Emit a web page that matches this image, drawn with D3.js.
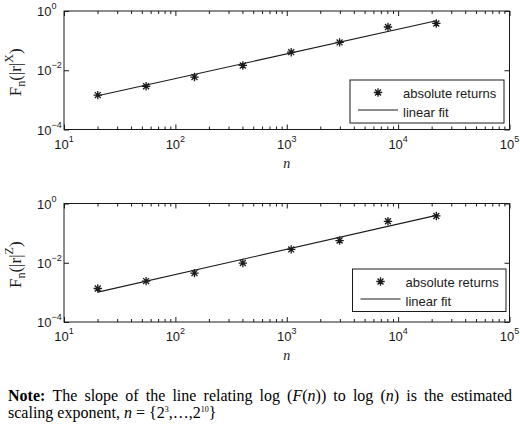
<!DOCTYPE html>
<html>
<head>
<meta charset="utf-8">
<script src="https://cdn.jsdelivr.net/npm/d3@7/dist/d3.min.js"></script>
<style>
  html, body { margin: 0; padding: 0; background: #fff; }
  svg { display: block; }
</style>
</head>
<body>
<svg id="chart" width="520" height="424"></svg>
<script>
// ---------------- data ----------------
const nValues   = [20.1, 54.6, 148.4, 403.4, 1096.6, 2981, 8103, 22026];
const fxValues  = [0.00145, 0.00288, 0.00589, 0.0145, 0.0407, 0.0871, 0.288, 0.380];
const fzValues  = [0.00135, 0.0024, 0.00447, 0.00977, 0.0282, 0.0562, 0.251, 0.380];
const fitN      = [20.1, 22026];
const fitX      = [0.00138, 0.468];
const fitZ      = [0.00102, 0.398];
const xTickValues = [10, 100, 1000, 10000, 100000];
const xTickExps   = ["1", "2", "3", "4", "5"];
const yTickValues = [1e-4, 1e-2, 1];
const yTickExps   = ["\u22124", "\u22122", "0"];
const legendLabels = ["absolute returns", "linear fit"];
const yLabelSups   = ["X", "Z"];
const xLabel = "n";
// note text: words made of [text, style] segments (b = bold, i = italic, s = superscript)
const noteLine1 = [
  [["Note:", "b"]], [["The", ""]], [["slope", ""]], [["of", ""]], [["the", ""]], [["line", ""]],
  [["relating", ""]], [["log", ""]], [["(", ""], ["F", "i"], ["(", ""], ["n", "i"], ["))", ""]],
  [["to", ""]], [["log", ""]], [["(", ""], ["n", "i"], [")", ""]], [["is", ""]], [["the", ""]],
  [["estimated", ""]]
];
const noteLine2 = [
  [["scaling", ""]], [["exponent,", ""]], [["n", "i"]], [["=", ""]],
  [["{2", ""], ["3", "s"], [",\u2026,2", ""], ["10", "s"], ["}", ""]]
];

// ---------------- layout ----------------
const svg = d3.select("#chart");
const LEFT = 64, RIGHT = 509.5;
const ink = "#1a1a1a";
const sans = "'Liberation Sans', Arial, sans-serif";
const serif = "'Liberation Serif', 'Times New Roman', serif";

const panels = [
  { top: 11, bottom: 129.5, values: fxValues, fit: fitX, sup: yLabelSups[0],
    legend: { x: 350, y: 80, w: 154, h: 43 } },
  { top: 203.5, bottom: 322, values: fzValues, fit: fitZ, sup: yLabelSups[1],
    legend: { x: 352.5, y: 269, w: 153.5, h: 42.5 } }
];

const minorTicks = [];
for (let e = 1; e < 5; e++) for (let k = 2; k <= 9; k++) minorTicks.push(k * Math.pow(10, e));

function starPath(r) {
  const d = r * Math.SQRT1_2;
  return `M${-r},0L${r},0M0,${-r}L0,${r}M${-d},${-d}L${d},${d}M${-d},${d}L${d},${-d}`;
}

panels.forEach(p => {
  const g = svg.append("g");
  const x = d3.scaleLog().domain([10, 1e5]).range([LEFT, RIGHT]);
  const y = d3.scaleLog().domain([1e-4, 1]).range([p.bottom, p.top]);

  const mk = (axis, tr) => {
    const a = g.append("g").attr("transform", tr).call(axis);
    a.select(".domain").remove();
    a.selectAll("line").attr("stroke", ink).attr("stroke-width", 1);
    a.selectAll("text").remove();
  };
  mk(d3.axisBottom(x).tickValues(xTickValues).tickSize(-5).tickFormat(""), `translate(0,${p.bottom})`);
  mk(d3.axisBottom(x).tickValues(minorTicks).tickSize(-3).tickFormat(""), `translate(0,${p.bottom})`);
  mk(d3.axisTop(x).tickValues(xTickValues).tickSize(-5).tickFormat(""), `translate(0,${p.top})`);
  mk(d3.axisTop(x).tickValues(minorTicks).tickSize(-3).tickFormat(""), `translate(0,${p.top})`);
  mk(d3.axisLeft(y).tickValues(yTickValues).tickSize(-5).tickFormat(""), `translate(${LEFT},0)`);
  mk(d3.axisRight(y).tickValues(yTickValues).tickSize(-5).tickFormat(""), `translate(${RIGHT},0)`);

  g.append("rect").attr("x", LEFT).attr("y", p.top)
    .attr("width", RIGHT - LEFT).attr("height", p.bottom - p.top)
    .attr("fill", "none").attr("stroke", ink).attr("stroke-width", 1);

  xTickValues.forEach((v, i) => {
    const t = g.append("text").attr("x", x(v)).attr("y", p.bottom + 19)
      .attr("text-anchor", "middle").attr("font-family", sans).attr("font-size", 13).attr("fill", ink);
    t.append("tspan").text("10");
    t.append("tspan").attr("dy", -7).attr("font-size", 9).text(xTickExps[i]);
  });
  yTickValues.forEach((v, i) => {
    const t = g.append("text").attr("x", 37).attr("y", y(v) + 5)
      .attr("text-anchor", "start").attr("font-family", sans).attr("font-size", 13).attr("fill", ink);
    t.append("tspan").text("10");
    t.append("tspan").attr("dy", -7).attr("font-size", 9).text(yTickExps[i]);
  });

  g.append("text").attr("x", (LEFT + RIGHT) / 2).attr("y", p.bottom + 38)
    .attr("text-anchor", "middle").attr("font-family", serif).attr("font-style", "italic")
    .attr("font-size", 14).attr("fill", ink).text(xLabel);

  const cy = (p.top + p.bottom) / 2 + 2;
  const yl = g.append("text").attr("transform", `translate(21,${cy}) rotate(-90)`)
    .attr("text-anchor", "middle").attr("font-family", serif).attr("font-size", 17).attr("fill", ink);
  yl.append("tspan").text("F");
  yl.append("tspan").attr("dy", 4).attr("font-size", 12).text("n");
  yl.append("tspan").attr("dy", -4).text("(|r|");
  yl.append("tspan").attr("dy", -8).attr("font-size", 12).text(p.sup);
  yl.append("tspan").attr("dy", 8).text(")");

  const line = d3.line().x(d => x(d[0])).y(d => y(d[1]));
  g.append("path").datum(d3.zip(fitN, p.fit)).attr("d", line)
    .attr("fill", "none").attr("stroke", ink).attr("stroke-width", 1.1);

  g.selectAll(".pt").data(d3.zip(nValues, p.values)).join("path")
    .attr("transform", d => `translate(${x(d[0])},${y(d[1])})`)
    .attr("d", starPath(4.2)).attr("stroke", ink).attr("stroke-width", 1.3).attr("fill", "none");

  const L = p.legend;
  const lg = g.append("g");
  lg.append("rect").attr("x", L.x).attr("y", L.y).attr("width", L.w).attr("height", L.h)
    .attr("fill", "#fff").attr("stroke", ink).attr("stroke-width", 1);
  lg.append("path").attr("transform", `translate(${L.x + 28},${L.y + 12.5})`)
    .attr("d", starPath(4.2)).attr("stroke", ink).attr("stroke-width", 1.3).attr("fill", "none");
  lg.append("line").attr("x1", L.x + 8).attr("x2", L.x + 48)
    .attr("y1", L.y + 30).attr("y2", L.y + 30).attr("stroke", ink).attr("stroke-width", 1.1);
  legendLabels.forEach((s, i) => {
    lg.append("text").attr("x", L.x + 53).attr("y", L.y + 17.5 + i * 19.5)
      .attr("font-family", sans).attr("font-size", 13).attr("fill", ink).text(s);
  });
});

// ---------------- note (justified first line, ragged last line) ----------------
const FS = 16;
function drawWord(segs, x, y, fs) {
  const t = svg.append("text").attr("x", x).attr("y", y)
    .attr("font-family", serif).attr("font-size", fs).attr("fill", "#000");
  let raised = false;
  segs.forEach(([s, st]) => {
    const ts = t.append("tspan").text(s);
    if (st === "b") ts.attr("font-weight", "bold");
    if (st === "i") ts.attr("font-style", "italic");
    if (st === "s") { ts.attr("font-size", fs * 0.5).attr("dy", -fs * 0.4); raised = true; }
    else if (raised) { ts.attr("dy", fs * 0.4); raised = false; }
  });
  return t;
}
function measure(words, fs) {
  return words.map(w => { const t = drawWord(w, 0, -50, fs); const l = t.node().getComputedTextLength(); t.remove(); return l; });
}
const NOTE_X = 8;
const w2 = measure(noteLine2, FS);
let cx = NOTE_X;
noteLine2.forEach((w, i) => { drawWord(w, cx, 418, FS); cx += w2[i] + 0.25 * FS; });

const w1 = measure(noteLine1, FS);
const gap = (504 - d3.sum(w1)) / (noteLine1.length - 1);
cx = NOTE_X;
noteLine1.forEach((w, i) => { drawWord(w, cx, 401, FS); cx += w1[i] + gap; });
</script>
</body>
</html>
